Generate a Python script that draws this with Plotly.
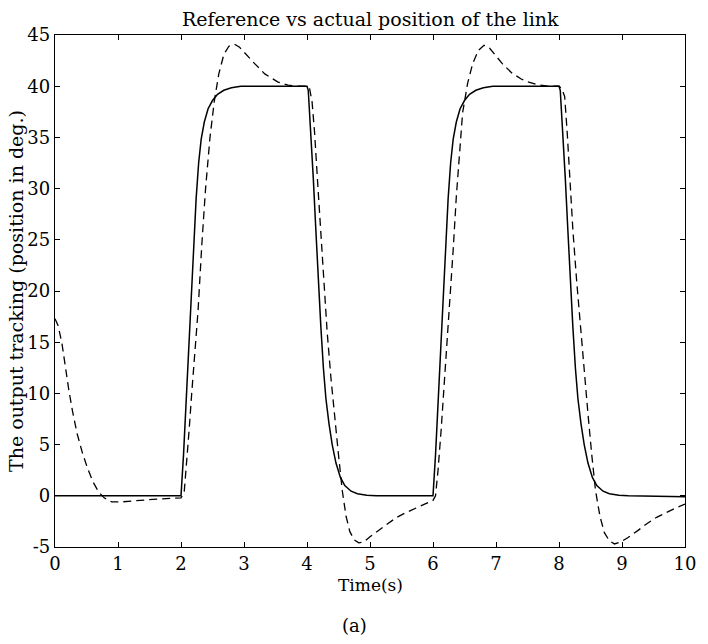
import plotly.graph_objects as go

# Reference (solid) trajectory
ref_t = [0.00, 2.00, 2.04, 2.08, 2.12, 2.16, 2.20, 2.24, 2.28, 2.32, 2.37, 2.43, 2.50, 2.58, 2.68, 2.80, 2.95,
         4.00, 4.02, 4.06, 4.10, 4.14, 4.18, 4.22, 4.26, 4.30, 4.35, 4.40, 4.46, 4.53, 4.60, 4.70, 4.80, 4.95, 5.10,
         6.00, 6.04, 6.08, 6.12, 6.16, 6.20, 6.24, 6.28, 6.32, 6.37, 6.43, 6.50, 6.58, 6.68, 6.80, 6.95,
         8.00, 8.02, 8.06, 8.10, 8.14, 8.18, 8.22, 8.26, 8.30, 8.35, 8.40, 8.46, 8.53, 8.60, 8.70, 8.80, 8.95, 9.10,
         10.00]
ref_y = [0.0, 0.0, 4.0, 9.0, 14.0, 18.5, 24.0, 29.0, 32.5, 34.8, 36.5, 37.8, 38.6, 39.2, 39.6, 39.85, 40.0,
         40.0, 39.6, 35.5, 31.0, 26.0, 21.0, 16.5, 12.5, 9.5, 7.0, 5.0, 3.2, 1.8, 1.0, 0.45, 0.2, 0.05, 0.0,
         0.0, 4.0, 9.0, 14.0, 18.5, 24.0, 29.0, 32.5, 34.8, 36.5, 37.8, 38.6, 39.2, 39.6, 39.85, 40.0,
         40.0, 39.6, 35.5, 31.0, 26.0, 21.0, 16.5, 12.5, 9.5, 7.0, 5.0, 3.2, 1.8, 1.0, 0.45, 0.2, 0.05, 0.0,
         -0.1]

# Actual (dashed) trajectory
act_t = [0.00, 0.05, 0.11, 0.16, 0.22, 0.28, 0.35, 0.43, 0.51, 0.60, 0.69, 0.78, 0.90, 1.05, 1.29, 1.55, 1.76,
         2.00, 2.05, 2.09, 2.13, 2.17, 2.22, 2.27, 2.33, 2.39, 2.46, 2.53, 2.60, 2.68, 2.76, 2.85, 2.93, 3.03,
         3.17, 3.33, 3.54, 3.70, 3.85,
         4.00, 4.04, 4.08, 4.12, 4.17, 4.22, 4.27, 4.32, 4.38, 4.44, 4.50, 4.56, 4.62, 4.68, 4.75, 4.82, 4.90,
         5.00, 5.11, 5.25, 5.40, 5.55, 5.70, 5.85,
         6.00, 6.04, 6.08, 6.13, 6.18, 6.22, 6.26, 6.32, 6.37, 6.42, 6.47, 6.55, 6.63, 6.72, 6.81, 6.90, 7.00,
         7.10, 7.25, 7.40, 7.52, 7.65, 7.80,
         8.00, 8.04, 8.09, 8.13, 8.17, 8.22, 8.28, 8.34, 8.40, 8.46, 8.52, 8.58, 8.65, 8.72, 8.80, 8.88, 8.98,
         9.09, 9.25, 9.40, 9.55, 9.71, 9.85, 10.00]
act_y = [17.3, 16.6, 14.9, 12.7, 10.3, 8.2, 6.1, 4.3, 2.8, 1.4, 0.4, -0.2, -0.6, -0.6, -0.45, -0.35, -0.27,
         -0.2, 0.3, 3.0, 6.5, 10.0, 14.0, 18.0, 24.5, 30.0, 35.0, 38.6, 41.2, 43.1, 43.9, 44.1, 43.8, 43.1,
         42.2, 41.2, 40.4, 40.1, 40.0,
         40.0, 39.8, 38.5, 35.5, 30.5, 25.5, 20.5, 16.0, 11.5, 7.5, 4.0, 0.5, -2.0, -3.5, -4.3, -4.6, -4.5,
         -4.0, -3.5, -2.8, -2.2, -1.7, -1.3, -0.9,
         -0.45, 0.0, 2.5, 6.5, 11.0, 14.5, 18.0, 24.0, 29.2, 33.5, 37.4, 40.3, 42.2, 43.5, 44.0, 43.7, 43.0,
         42.2, 41.3, 40.7, 40.4, 40.15, 40.02,
         40.0, 39.8, 39.0, 35.5, 31.0, 26.0, 21.0, 16.5, 12.0, 8.0, 4.0, 0.5, -2.0, -3.6, -4.4, -4.7, -4.5,
         -4.1, -3.4, -2.7, -2.1, -1.6, -1.2, -0.8]

x_ticks = list(range(0, 11))
y_ticks = list(range(-5, 46, 5))

title_text = "Reference vs actual position of the link"
x_title = "Time(s)"
y_title = "The output tracking (position in deg.)"
caption = "(a)"

FONT = "DejaVu Serif"

fig = go.Figure()
fig.add_trace(go.Scatter(x=ref_t, y=ref_y, mode="lines",
                         line=dict(color="black", width=1.5), showlegend=False))
fig.add_trace(go.Scatter(x=act_t, y=act_y, mode="lines",
                         line=dict(color="black", width=1.3, dash="8px,5px"), showlegend=False))

axis_common = dict(showline=True, linecolor="black", linewidth=1.3, mirror="ticks",
                   ticks="inside", ticklen=5, tickcolor="black", showgrid=False, zeroline=False,
                   tickfont=dict(family=FONT, size=18, color="black"))

fig.update_xaxes(range=[0, 10], tickvals=x_ticks, ticktext=[str(v) for v in x_ticks], **axis_common)
fig.update_yaxes(range=[-5, 45], tickvals=y_ticks, ticktext=[str(v) for v in y_ticks], **axis_common)

fig.update_layout(
    width=708, height=644,
    margin=dict(l=55, r=16, t=35, b=97),
    paper_bgcolor="white", plot_bgcolor="white",
    annotations=[
        dict(text=title_text, xref="paper", yref="paper", x=0.5, y=1.0, yshift=16,
             showarrow=False, font=dict(family=FONT, size=19, color="black"), yanchor="middle"),
        dict(text=x_title, xref="paper", yref="paper", x=0.5, y=0, yshift=-26,
             showarrow=False, font=dict(family=FONT, size=17, color="black"), yanchor="top"),
        dict(text=y_title, xref="paper", yref="paper", x=0, xshift=-39, y=0.5, textangle=-90,
             showarrow=False, font=dict(family=FONT, size=19, color="black"), xanchor="center"),
        dict(text=caption, xref="paper", yref="paper", x=0.475, y=0, yshift=-78,
             showarrow=False, font=dict(family=FONT, size=18, color="black"), yanchor="middle"),
    ],
)

fig.write_html("out.html")
